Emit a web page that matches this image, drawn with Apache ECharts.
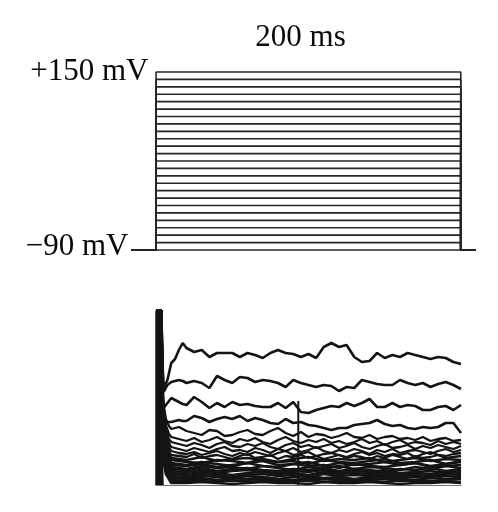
<!DOCTYPE html>
<html><head><meta charset="utf-8">
<script src="https://cdn.jsdelivr.net/npm/echarts@6/dist/echarts.min.js"></script>
<style>html,body{margin:0;padding:0;background:#fff}#c{width:498px;height:512px}</style>
</head><body><div id="c"></div>
<script>
// ---- Voltage protocol (top) ----
const holdLevel = -90;
const stepLevels = [-80,-70,-60,-50,-40,-30,-20,-10,0,10,20,30,40,50,60,70,80,90,100,110,120,130,140,150];
const protocolTimes = [-16, 0, 0, 200, 200, 210];
const holdTimes = [-16, 210];
const durationLabel = '200 ms';
const topLabel = '+150 mV';
const holdLabel = '\u221290 mV';

// ---- Current traces (bottom), arbitrary units ----
const spikeTimes = [0, 0, 3.6, 4.0, 4.6];
const spikeValues = [0, 174, 174, 40, 0];

const fineTimes = [0,3.5,4.3,5,7.5,10,12.5,15,17.5,20,25,30,35,40,45,50,55,60,65,70,75,80,85,90,95,100,105,110,115,120,125,130,135,140,145,150,155,160,165,170,175,180,185,190,195,200];
const trace1 = [174,174,120,97,105,122,126,135,142,137,133,135,128,132,132,132,128,132,130,127,132,135,132,131,128,131,127,138,142,138,140,128,123,124,132,127,130,128,132,130,128,126,128,127,123,121];
const trace2 = [174,174,115,93,100,103,104,105,104,102,104,102,97,109,105,102,108,107,103,105,104,102,98,105,102,100,98,100,99,94,98,97,105,103,101,100,100,105,102,100,102,98,101,103,100,96];
const trace3 = [174,174,105,77,82,87,85,83,81,80,88,83,77,82,78,83,80,81,79,78,78,82,77,83,73,72,75,77,79,78,82,79,82,86,78,78,82,78,80,79,75,75,78,79,75,80];
const trace4 = [174,174,95,62,63,63,64,65,64,64,69,67,63,66,68,66,69,64,67,65,62,61,66,62,63,60,59,57,55,57,57,60,61,62,65,61,59,60,57,56,58,57,58,62,62,52];

const glitchTimes = [93.3, 93.3];
const glitchValues = [84, 0];

const midTimes = [0,3.5,4.2,5,6.5,8.5,10,15,20,25,30,35,40,45,50,55,60,65,70,75,80,85,90,95,100,105,110,115,120,125,130,135,140,145,150,155,160,165,170,175,180,185,190,195,200];
const trace5  = [174,174,95,80,66,59,56,58,54,52,50,55,54,49,50,53,55,51,50,54,57,52,49,53,48,51,50,47,49,52,48,47,50,46,48,49,46,47,45,48,44,46,47,44,45];
const trace6  = [174,174,92,76,60,51,48,46,44,47,43,45,48,44,42,46,44,47,43,41,45,48,44,42,45,43,46,42,44,41,43,46,42,44,40,43,45,41,43,42,40,44,41,43,41];
const trace7  = [174,174,90,72,55,46,43,41,39,42,40,37,41,43,39,38,41,39,42,38,36,40,42,38,40,37,39,41,37,39,42,38,36,39,41,37,38,40,36,39,37,40,38,36,39];
const trace8  = [174,174,88,68,51,42,38,36,34,37,35,33,36,38,34,35,33,37,35,32,36,34,37,33,35,38,34,32,35,33,36,34,31,35,33,36,32,34,35,33,31,34,36,33,35];
const trace9  = [174,174,86,64,47,38,34,32,31,33,30,32,34,31,29,32,30,33,31,29,32,34,30,31,33,29,31,32,30,28,31,33,30,32,29,31,30,32,28,31,33,30,29,31,32];
const trace10 = [174,174,84,60,43,34,30,29,28,31,27,29,30,28,26,29,31,27,28,30,26,29,28,30,27,29,26,28,30,27,29,28,26,29,27,30,28,26,29,27,28,30,27,28,29];

const coarseTimes = [0,3.5,4.2,5,6.5,8.5,10,20,30,40,50,60,70,80,90,100,110,120,130,140,150,160,170,180,190,200];
const trace11 = [174,174,82,57,40,31,27,25,28,24,26,27,25,23,26,28,24,26,25,27,23,25,27,24,26,25];
const trace12 = [174,174,80,54,38,29,25,23,22,25,24,22,26,23,24,21,25,23,22,24,26,22,23,25,21,24];
const trace13 = [174,174,78,51,35,26,22,20,23,21,19,22,24,20,21,23,19,22,20,21,23,20,22,19,21,23];
const trace14 = [174,174,76,48,33,24,20,19,21,18,20,22,19,18,21,19,20,17,21,19,18,20,22,18,19,20];
const trace15 = [174,174,74,46,30,22,18,16,19,17,18,16,19,17,15,18,17,19,16,18,17,15,18,16,19,17];
const trace16 = [174,174,72,43,28,20,16,15,17,14,16,17,15,14,16,15,17,14,16,15,13,16,15,17,14,16];
const trace17 = [174,174,70,41,26,18,14,13,15,12,14,15,13,12,14,13,15,12,14,13,15,12,13,14,12,14];
const trace18 = [174,174,68,38,23,16,12,11,13,12,10,12,13,11,12,10,13,11,12,11,13,10,12,11,13,12];
const trace19 = [174,174,66,36,21,14,10,9,11,10,8,10,11,9,10,8,11,9,10,9,11,8,10,9,11,10];
const trace20 = [174,174,64,33,19,12,8,7,9,8,7,9,8,6,8,9,7,8,6,8,9,7,8,7,9,8];
const trace21 = [174,174,62,31,17,10,7,6,7,5,7,6,8,6,5,7,6,7,5,6,7,6,5,7,6,7];
const trace22 = [174,174,60,28,15,9,5,4,6,5,4,5,6,4,5,4,6,5,4,5,6,4,5,4,5,6];
const trace23 = [174,174,58,26,13,7,4,3,4,3,5,3,4,3,4,5,3,4,3,4,3,5,4,3,4,3];
const trace24 = [174,174,56,24,11,6,2,2,3,2,1,2,3,2,2,1,3,2,2,3,2,1,2,2,3,2];

const fineTraces = [trace1, trace2, trace3, trace4];
const midTraces = [trace5, trace6, trace7, trace8, trace9, trace10];
const coarseTraces = [trace11,trace12,trace13,trace14,trace15,trace16,trace17,trace18,trace19,trace20,trace21,trace22,trace23,trace24];

const zip = (ts, vs) => ts.map((t, i) => [t, vs[i]]);
const series = [];
const lineSeries = (xi, data, color, width) => ({type:'line', xAxisIndex:xi, yAxisIndex:xi, data,
  showSymbol:false, clip:false, silent:true, lineStyle:{color, width}});

// protocol steps
series.push(lineSeries(0, zip(holdTimes, [holdLevel, holdLevel]), '#262626', 1.7));
stepLevels.forEach(v => {
  series.push(lineSeries(0, zip(protocolTimes, [holdLevel, holdLevel, v, v, holdLevel, holdLevel]), '#262626', 1.6));
});

// bottom traces
coarseTraces.slice().reverse().forEach(tr => series.push(lineSeries(1, zip(coarseTimes, tr), '#141414', 2.7)));
midTraces.slice().reverse().forEach(tr => series.push(lineSeries(1, zip(midTimes, tr), '#141414', 2.3)));
fineTraces.forEach(tr => series.push(lineSeries(1, zip(fineTimes, tr), '#141414', 2.6)));
series.push(lineSeries(1, zip(glitchTimes, glitchValues), '#141414', 2));
const spike = lineSeries(1, zip(spikeTimes, spikeValues), '#141414', 1.5);
spike.areaStyle = {color:'#141414', opacity:1};
series.push(spike);

const font = {fontFamily:'Liberation Serif', fontSize:31, fill:'#0a0a0a'};
const chart = echarts.init(document.getElementById('c'), null, {renderer:'canvas'});
chart.setOption({
  animation:false,
  backgroundColor:'#fff',
  grid:[
    {left:131.7, right:22, top:72, bottom:262},
    {left:156, right:37, top:311, bottom:27}
  ],
  xAxis:[
    {type:'value', gridIndex:0, min:-16, max:210, show:false},
    {type:'value', gridIndex:1, min:0, max:200, axisLine:{show:true, onZero:false, lineStyle:{color:'#707070', width:1}},
      axisTick:{show:false}, axisLabel:{show:false}, splitLine:{show:false}}
  ],
  yAxis:[
    {type:'value', gridIndex:0, min:-90, max:150, show:false},
    {type:'value', gridIndex:1, min:0, max:174, axisLine:{show:true, onZero:false, lineStyle:{color:'#909090', width:1}},
      axisTick:{show:false}, axisLabel:{show:false}, splitLine:{show:false}}
  ],
  graphic:[
    {type:'text', style:Object.assign({text:durationLabel, x:300.5, y:37.5, align:'center', verticalAlign:'middle'}, font)},
    {type:'text', style:Object.assign({text:topLabel, x:148.5, y:71.5, align:'right', verticalAlign:'middle'}, font)},
    {type:'text', style:Object.assign({text:holdLabel, x:128.5, y:247, align:'right', verticalAlign:'middle'}, font)}
  ],
  series: series
});
</script></body></html>
